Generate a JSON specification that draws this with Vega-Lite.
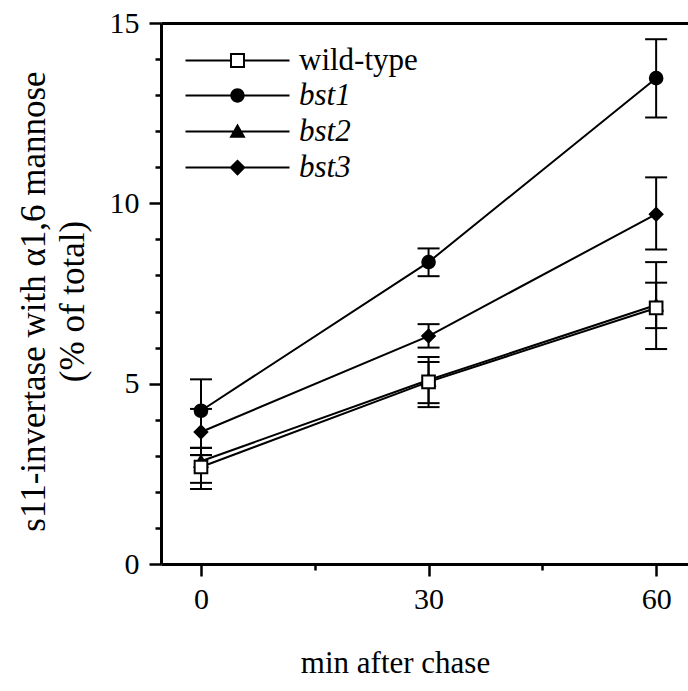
{
  "$schema": "https://vega.github.io/schema/vega-lite/v6.json",
  "autosize": "none",
  "width": 527,
  "height": 541,
  "padding": {"left": 161, "top": 23, "right": 0, "bottom": 127},
  "background": "white",
  "config": {"view": {"stroke": null}, "font": "Liberation Serif"},
  "data": {
    "values": [
      {"series": "bst1", "t": 0, "v": 4.25, "lo": 3.22, "hi": 5.12},
      {"series": "bst1", "t": 30, "v": 8.37, "lo": 7.98, "hi": 8.75},
      {"series": "bst1", "t": 60, "v": 13.47, "lo": 12.38, "hi": 14.55},
      {"series": "bst2", "t": 0, "v": 2.85, "lo": 2.08, "hi": 3.22},
      {"series": "bst2", "t": 30, "v": 5.1, "lo": 4.46, "hi": 5.6},
      {"series": "bst2", "t": 60, "v": 7.18, "lo": 6.54, "hi": 7.8},
      {"series": "bst3", "t": 0, "v": 3.66, "lo": 3.02, "hi": 4.3},
      {"series": "bst3", "t": 30, "v": 6.32, "lo": 6.0, "hi": 6.65},
      {"series": "bst3", "t": 60, "v": 9.7, "lo": 8.72, "hi": 10.72},
      {"series": "wild-type", "t": 0, "v": 2.69, "lo": 2.25, "hi": 3.02},
      {"series": "wild-type", "t": 30, "v": 5.05, "lo": 4.35, "hi": 5.74},
      {"series": "wild-type", "t": 60, "v": 7.1, "lo": 5.96, "hi": 8.37}
    ]
  },
  "resolve": {"axis": {"x": "independent", "y": "independent"}, "scale": {"shape": "independent"}},
  "layer": [
    {
      "mark": {"type": "line", "stroke": "black", "strokeWidth": 2},
      "encoding": {
        "x": {
          "field": "t", "type": "quantitative",
          "scale": {"domain": [-5.27, 64.2], "nice": false, "zero": false},
          "axis": {
            "orient": "bottom",
            "values": [0, 15, 30, 45, 60],
            "labelExpr": "datum.value % 30 === 0 ? datum.label : ''",
            "tickSize": {"condition": {"test": "datum.value % 30 === 0", "value": 12}, "value": 6},
            "tickWidth": 2.5, "tickColor": "black",
            "domainColor": "black", "domainWidth": 3,
            "grid": false,
            "labelFontSize": 30, "labelColor": "black", "labelPadding": 8,
            "title": "min after chase",
            "titleFontSize": 31, "titleFontWeight": "normal", "titleColor": "black",
            "titleX": 234, "titleY": 108, "titleAlign": "center", "titleBaseline": "alphabetic"
          }
        },
        "y": {
          "field": "v", "type": "quantitative",
          "scale": {"domain": [0, 15], "nice": false, "zero": false},
          "axis": {
            "orient": "left",
            "values": [0, 1, 2, 3, 4, 5, 6, 7, 8, 9, 10, 11, 12, 13, 14, 15],
            "labelExpr": "datum.value % 5 === 0 ? datum.label : ''",
            "tickSize": {"condition": {"test": "datum.value % 5 === 0", "value": 12}, "value": 6},
            "tickWidth": 2.5, "tickColor": "black",
            "domainColor": "black", "domainWidth": 3,
            "grid": false,
            "labelFontSize": 30, "labelColor": "black", "labelPadding": 10,
            "title": ["s11-invertase with \u03b11,6 mannose", "(% of total)"],
            "titleFontSize": 35, "titleFontWeight": "normal", "titleColor": "black",
            "titleLineHeight": 39,
            "titleX": -128, "titleY": 278, "titleAngle": -90, "titleAlign": "center", "titleBaseline": "middle"
          }
        },
        "detail": {"field": "series"}
      }
    },
    {
      "mark": {"type": "rule", "stroke": "black", "strokeWidth": 2},
      "encoding": {
        "x": {"field": "t", "type": "quantitative", "axis": {"orient": "top", "labels": false, "ticks": false, "title": null, "grid": false, "domainColor": "black", "domainWidth": 3}},
        "y": {"field": "lo", "type": "quantitative", "axis": null},
        "y2": {"field": "hi"}
      }
    },
    {
      "mark": {"type": "tick", "orient": "horizontal", "size": 22, "thickness": 2, "color": "black", "opacity": 1},
      "encoding": {
        "x": {"field": "t", "type": "quantitative", "axis": null},
        "y": {"field": "lo", "type": "quantitative", "axis": null}
      }
    },
    {
      "mark": {"type": "tick", "orient": "horizontal", "size": 22, "thickness": 2, "color": "black", "opacity": 1},
      "encoding": {
        "x": {"field": "t", "type": "quantitative", "axis": null},
        "y": {"field": "hi", "type": "quantitative", "axis": null}
      }
    },
    {
      "mark": {"type": "point", "filled": true, "stroke": "black", "strokeWidth": 2, "opacity": 1, "size": 160},
      "encoding": {
        "x": {"field": "t", "type": "quantitative", "axis": null},
        "y": {"field": "v", "type": "quantitative", "axis": null},
        "shape": {
          "field": "series", "type": "nominal",
          "scale": {"domain": ["wild-type", "bst1", "bst2", "bst3"], "range": ["square", "circle", "triangle-up", "diamond"]},
          "legend": null
        },
        "fill": {
          "condition": {"test": "datum.series === 'wild-type'", "value": "white"},
          "value": "black"
        }
      }
    },
    {
      "transform": [{"filter": "datum.series === 'wild-type'"}],
      "mark": {"type": "point", "filled": false, "color": "black", "fill": "black", "stroke": "black", "strokeWidth": 2, "opacity": 0, "size": 160},
      "encoding": {
        "x": {"field": "t", "type": "quantitative", "axis": null},
        "y": {"field": "v", "type": "quantitative", "axis": null},
        "shape": {
          "field": "series", "type": "nominal",
          "scale": {"domain": ["wild-type"], "range": ["M-8,-0.15H-1.15V0.15H-8ZM1.15,-0.15H8V0.15H1.15ZM-1.15,-1.15H1.15V1.15H-1.15ZM-0.85,-0.85V0.85H0.85V-0.85Z"]},
          "legend": {
            "orient": "none", "legendX": 61, "legendY": 22,
            "title": null, "padding": 0, "rowPadding": 4,
            "symbolSize": 169, "symbolOpacity": 1, "symbolFillColor": "black",
            "symbolStrokeColor": "black", "symbolStrokeWidth": 0,
            "labelOffset": 46, "labelFontSize": 31, "labelColor": "black", "labelFontStyle": "normal"
          }
        }
      }
    },
    {
      "transform": [{"filter": "datum.series !== 'wild-type'"}],
      "mark": {"type": "point", "filled": false, "color": "black", "fill": "black", "stroke": "black", "strokeWidth": 2, "opacity": 0, "size": 160},
      "encoding": {
        "x": {"field": "t", "type": "quantitative", "axis": null},
        "y": {"field": "v", "type": "quantitative", "axis": null},
        "shape": {
          "field": "series", "type": "nominal",
          "scale": {"domain": ["bst1", "bst2", "bst3"], "range": ["M-8,-0.15H8V0.15H-8ZM-1.1,0A1.1,1.1 0 1,1 1.1,0A1.1,1.1 0 1,1 -1.1,0Z", "M-8,-0.15H8V0.15H-8ZM0,-1.25L1.25,0.95H-1.25Z", "M-8,-0.15H8V0.15H-8ZM0,-1.25L1.25,0L0,1.25L-1.25,0Z"]},
          "legend": {
            "orient": "none", "legendX": 61, "legendY": 57,
            "title": null, "padding": 0, "rowPadding": 4,
            "symbolSize": 169, "symbolOpacity": 1, "symbolFillColor": "black",
            "symbolStrokeColor": "black", "symbolStrokeWidth": 0,
            "labelOffset": 46, "labelFontSize": 31, "labelColor": "black", "labelFontStyle": "italic"
          }
        }
      }
    }
  ]
}
